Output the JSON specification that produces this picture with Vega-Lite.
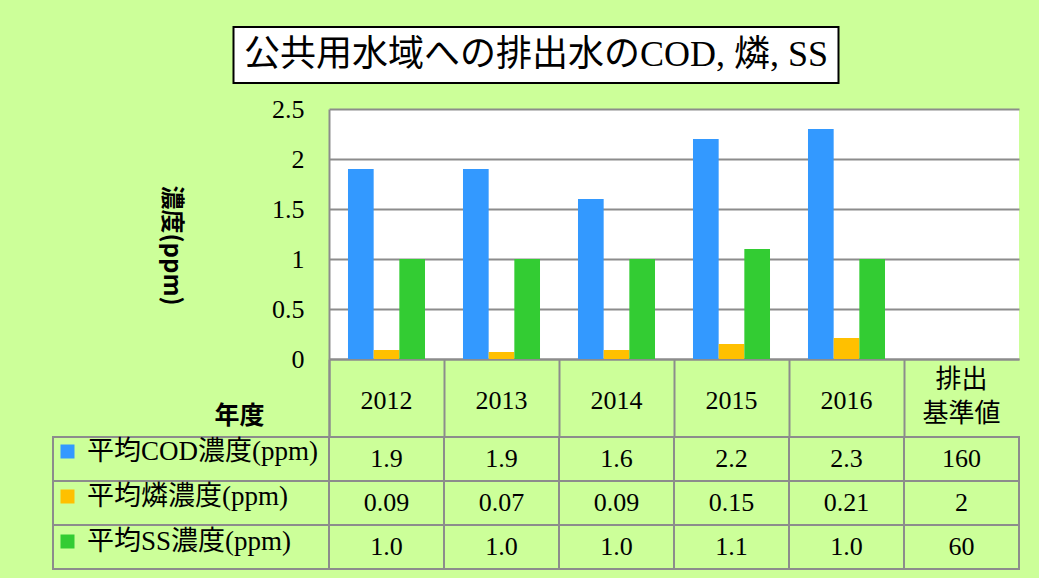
{
  "$schema": "https://vega.github.io/schema/vega-lite/v6.json",
  "background": "#CCFF99",
  "padding": {"left": 52, "top": 26, "right": 20, "bottom": 10},
  "config": {
    "view": {"stroke": null},
    "font": "Liberation Serif, Noto Sans CJK JP"
  },
  "datasets": {
    "heading": [{"text": "公共用水域への排出水のCOD, 燐, SS"}],
    "conc": [
      {"year": "2012", "series": "平均COD濃度(ppm)", "value": 1.9, "text": "1.9"},
      {"year": "2013", "series": "平均COD濃度(ppm)", "value": 1.9, "text": "1.9"},
      {"year": "2014", "series": "平均COD濃度(ppm)", "value": 1.6, "text": "1.6"},
      {"year": "2015", "series": "平均COD濃度(ppm)", "value": 2.2, "text": "2.2"},
      {"year": "2016", "series": "平均COD濃度(ppm)", "value": 2.3, "text": "2.3"},
      {"year": "排出基準値", "series": "平均COD濃度(ppm)", "value": 160, "text": "160"},
      {"year": "2012", "series": "平均燐濃度(ppm)", "value": 0.09, "text": "0.09"},
      {"year": "2013", "series": "平均燐濃度(ppm)", "value": 0.07, "text": "0.07"},
      {"year": "2014", "series": "平均燐濃度(ppm)", "value": 0.09, "text": "0.09"},
      {"year": "2015", "series": "平均燐濃度(ppm)", "value": 0.15, "text": "0.15"},
      {"year": "2016", "series": "平均燐濃度(ppm)", "value": 0.21, "text": "0.21"},
      {"year": "排出基準値", "series": "平均燐濃度(ppm)", "value": 2, "text": "2"},
      {"year": "2012", "series": "平均SS濃度(ppm)", "value": 1.0, "text": "1.0"},
      {"year": "2013", "series": "平均SS濃度(ppm)", "value": 1.0, "text": "1.0"},
      {"year": "2014", "series": "平均SS濃度(ppm)", "value": 1.0, "text": "1.0"},
      {"year": "2015", "series": "平均SS濃度(ppm)", "value": 1.1, "text": "1.1"},
      {"year": "2016", "series": "平均SS濃度(ppm)", "value": 1.0, "text": "1.0"},
      {"year": "排出基準値", "series": "平均SS濃度(ppm)", "value": 60, "text": "60"}
    ]
  },
  "center": true,
  "spacing": 12,
  "vconcat": [
    {
      "width": 605,
      "height": 56,
      "view": {"fill": "white", "stroke": "black", "strokeWidth": 2},
      "data": {"name": "heading"},
      "mark": {"type": "text", "font": "Liberation Serif, Noto Sans CJK JP", "fontSize": 36, "color": "black"},
      "encoding": {"text": {"field": "text"}}
    },
    {
      "columns": 2,
      "bounds": "flush",
      "spacing": {"row": 78, "column": 0},
      "resolve": {"legend": {"color": "independent"}},
      "concat": [
        {
          "width": 276,
          "height": 250,
          "data": {"values": []},
          "mark": "point"
        },
        {
          "width": 690,
          "height": 250,
          "view": {"fill": "white", "stroke": null},
          "data": {"name": "conc"},
          "transform": [{"filter": "datum.year != '排出基準値'"}],
          "mark": {"type": "bar"},
          "encoding": {
            "x": {
              "field": "year", "type": "nominal",
              "scale": {"domain": ["2012", "2013", "2014", "2015", "2016", "排出基準値"], "paddingInner": 0, "paddingOuter": 0},
              "axis": {
                "title": "年度", "titleFont": "Noto Sans CJK JP", "titleFontWeight": "bold", "titleFontSize": 25, "titleColor": "black",
                "titleX": -90, "titleY": 56, "titleAlign": "center", "titleBaseline": "middle",
                "labelAngle": 0, "labelFont": "Liberation Serif, Noto Sans CJK JP", "labelFontSize": 26, "labelColor": "black",
                "labelPadding": {"condition": {"test": "datum.value == '排出基準値'", "value": -58}, "value": -37},
                "labelBaseline": "middle", "labelLineHeight": 34,
                "labelExpr": "datum.value == '排出基準値' ? ['排出', '基準値'] : datum.value",
                "bandPosition": 0, "tickExtra": true, "tickSize": 78, "tickColor": "#8c8c8c", "tickWidth": 2,
                "domainColor": "#8c8c8c", "domainWidth": 2, "grid": false
              }
            },
            "xOffset": {
              "field": "series", "type": "nominal",
              "scale": {"domain": ["平均COD濃度(ppm)", "平均燐濃度(ppm)", "平均SS濃度(ppm)"], "paddingInner": 0, "paddingOuter": 0.74}
            },
            "y": {
              "field": "value", "type": "quantitative",
              "scale": {"domain": [0, 2.5], "nice": false},
              "axis": {
                "values": [0, 0.5, 1, 1.5, 2, 2.5], "format": "~g", "ticks": false, "labelFlush": false,
                "labelFont": "Liberation Serif", "labelFontSize": 26, "labelColor": "black", "labelPadding": 25,
                "domainColor": "#8c8c8c", "domainWidth": 2,
                "grid": true, "gridColor": "#8c8c8c", "gridWidth": 2,
                "title": "濃度(ppm)", "titleAngle": 90, "titleFont": "Noto Sans CJK JP", "titleFontWeight": "bold",
                "titleFontSize": 24, "titleColor": "black", "titlePadding": 113, "titleY": 136
              }
            },
            "color": {
              "field": "series", "type": "nominal",
              "scale": {"domain": ["平均COD濃度(ppm)", "平均燐濃度(ppm)", "平均SS濃度(ppm)"], "range": ["#3399FF", "#FFC000", "#33CC33"]},
              "legend": null
            }
          }
        },
        {
          "width": 276,
          "height": 132,
          "data": {"name": "conc"},
          "transform": [{"filter": "datum.year == '2012'"}],
          "encoding": {
            "y": {
              "field": "series", "type": "nominal",
              "scale": {"domain": ["平均COD濃度(ppm)", "平均燐濃度(ppm)", "平均SS濃度(ppm)"], "paddingInner": 0, "paddingOuter": 0},
              "axis": null
            }
          },
          "layer": [
            {"mark": {"type": "rect", "fill": "transparent", "stroke": "#8c8c8c", "strokeWidth": 2}},
            {
              "mark": {"type": "point", "shape": "square", "filled": true, "opacity": 0},
              "encoding": {
                "color": {
                  "field": "series", "type": "nominal",
                  "scale": {"domain": ["平均COD濃度(ppm)", "平均燐濃度(ppm)", "平均SS濃度(ppm)"], "range": ["#3399FF", "#FFC000", "#33CC33"]},
                  "legend": {
                    "orient": "top-left", "title": null, "offset": 1, "padding": 0,
                    "symbolType": "square", "symbolSize": 196, "symbolOpacity": 1, "symbolStrokeWidth": 0,
                    "labelFont": "Liberation Serif, Noto Sans CJK JP", "labelFontSize": 27, "labelColor": "black",
                    "labelOffset": 6, "rowPadding": 17, "labelLimit": 400
                  }
                }
              }
            }
          ]
        },
        {
          "width": 690,
          "height": 132,
          "data": {"name": "conc"},
          "encoding": {
            "x": {
              "field": "year", "type": "nominal",
              "scale": {"domain": ["2012", "2013", "2014", "2015", "2016", "排出基準値"], "paddingInner": 0, "paddingOuter": 0},
              "axis": null
            },
            "y": {
              "field": "series", "type": "nominal",
              "scale": {"domain": ["平均COD濃度(ppm)", "平均燐濃度(ppm)", "平均SS濃度(ppm)"], "paddingInner": 0, "paddingOuter": 0},
              "axis": null
            }
          },
          "layer": [
            {"mark": {"type": "rect", "fill": "transparent", "stroke": "#8c8c8c", "strokeWidth": 2}},
            {"mark": {"type": "text", "font": "Liberation Serif", "fontSize": 26, "color": "black"}, "encoding": {"text": {"field": "text"}}}
          ]
        }
      ]
    }
  ]
}
